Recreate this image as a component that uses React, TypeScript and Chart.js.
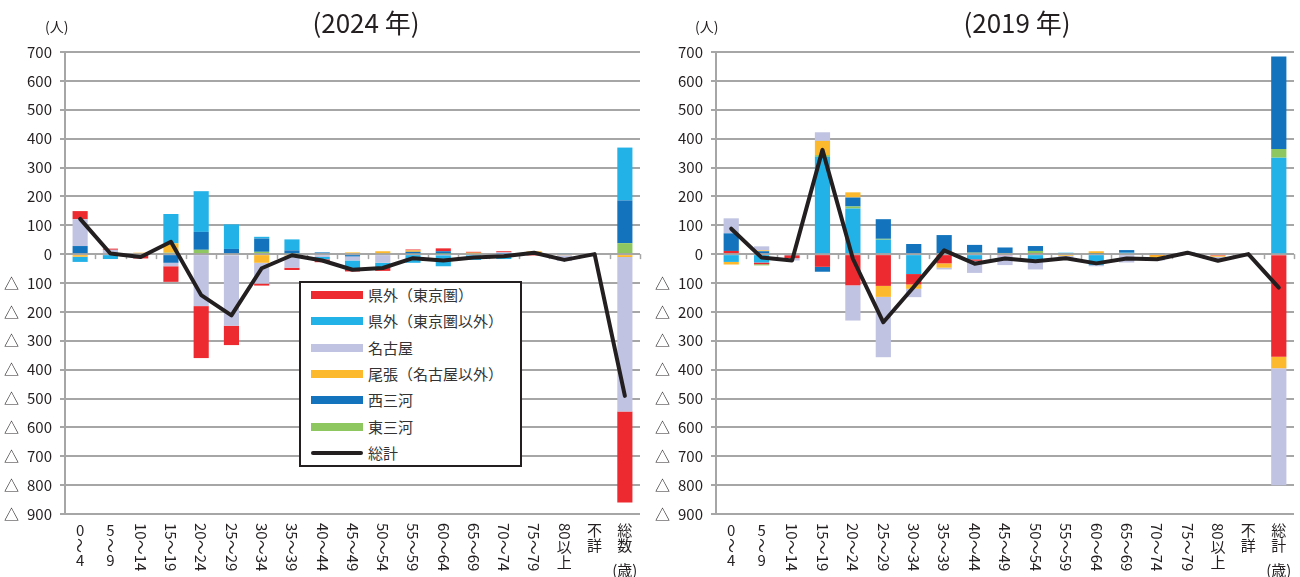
import React, { useEffect, useRef } from 'react';
import { Chart, registerables } from 'chart.js';

Chart.register(...registerables);

// ---- categories ----
const AGE_LABELS = [
  '0～4', '5～9', '10～14', '15～19', '20～24', '25～29', '30～34', '35～39', '40～44',
  '45～49', '50～54', '55～59', '60～64', '65～69', '70～74', '75～79', '80以上', '不詳',
];
const LABELS_2024 = [...AGE_LABELS, '総数'];
const LABELS_2019 = [...AGE_LABELS, '総計'];

// y axis range / ticks
const Y_MIN = -900;
const Y_MAX = 700;
const Y_STEP = 100;

// ---- series (persons) ----
// 2024
const tokyo2024 = [28, 4, -12, -54, -180, -67, -7, -8, -10, -8, -12, 3, 10, 3, 4, -5, 0, 0, -315];
const outsideTokyo2024 = [-18, -17, 0, 102, 141, 85, 6, 38, -8, -30, -16, -30, -38, -16, -17, 0, 4, 0, 183];
const nagoya2024 = [93, 15, -3, -12, -180, -248, -72, -42, -10, -14, -30, 0, -4, -4, 4, 0, -20, 0, -535];
const owari2024 = [-9, 0, 5, 32, 0, 0, -30, -5, 0, 6, 10, 5, 0, 2, 0, 8, -4, 0, -10];
const nishiMikawa2024 = [28, 0, 0, -30, 62, 18, 46, 10, 6, -8, 0, 5, 8, 0, 2, 2, 0, 0, 148];
const higashiMikawa2024 = [0, 0, 0, 5, 15, 0, 8, 3, 0, 0, 0, 3, 2, 3, 0, 0, 0, 0, 38];
const total2024 = [122, 2, -10, 43, -142, -212, -49, -4, -22, -54, -48, -14, -22, -12, -7, 5, -20, 0, -491];

// 2019
const tokyo2019 = [11, -6, -10, -44, -108, -110, -36, -32, -5, -4, 3, 0, 0, 0, -3, 0, -5, 0, -355];
const outsideTokyo2019 = [-27, -29, -4, 337, 158, 50, -69, 0, -18, 0, -18, 5, -38, 5, 0, 0, 0, 0, 334];
const nagoya2019 = [52, 14, -8, 30, -122, -209, -29, -6, -42, -34, -35, -13, -4, -29, -9, 0, -14, 0, -405];
const owari2019 = [-9, 3, 0, 49, 18, -38, -15, -15, 0, 0, 0, -6, 8, 0, -10, 0, -4, 0, -40];
const nishiMikawa2019 = [61, 10, 0, -17, 31, 68, 35, 66, 27, 19, 17, 0, 2, 9, 4, 5, 0, 0, 320];
const higashiMikawa2019 = [0, -4, 0, 6, 7, 3, 0, 0, 5, 4, 8, 0, 0, 0, 0, 0, 0, 0, 30];
const total2019 = [88, -12, -22, 361, -16, -236, -114, 13, -33, -15, -25, -14, -32, -15, -18, 5, -23, 0, -116];

// ---- series styling ----
type Key = 'tokyo' | 'outside' | 'nagoya' | 'owari' | 'nishi' | 'higashi';
const SERIES_NAME: Record<Key, string> = {
  tokyo: '県外（東京圏）',
  outside: '県外（東京圏以外）',
  nagoya: '名古屋',
  owari: '尾張（名古屋以外）',
  nishi: '西三河',
  higashi: '東三河',
};
const SERIES_COLOR: Record<Key, string> = {
  tokyo: '#ED2A30',
  outside: '#23B2E7',
  nagoya: '#C0C3E1',
  owari: '#FDB92E',
  nishi: '#1374BD',
  higashi: '#8EC75F',
};
const LEGEND_ORDER: Key[] = ['tokyo', 'outside', 'nagoya', 'owari', 'nishi', 'higashi'];
const TOTAL_NAME = '総計';
const LINE_COLOR = '#231F20';

// stacking order (first = nearest to zero)
const STACK_2024: Key[] = ['higashi', 'nishi', 'owari', 'nagoya', 'outside', 'tokyo'];
const STACK_2019: Key[] = ['outside', 'tokyo', 'higashi', 'nishi', 'owari', 'nagoya'];

const SERIES_2024: Record<Key, number[]> = {
  tokyo: tokyo2024, outside: outsideTokyo2024, nagoya: nagoya2024,
  owari: owari2024, nishi: nishiMikawa2024, higashi: higashiMikawa2024,
};
const SERIES_2019: Record<Key, number[]> = {
  tokyo: tokyo2019, outside: outsideTokyo2019, nagoya: nagoya2019,
  owari: owari2019, nishi: nishiMikawa2019, higashi: higashiMikawa2019,
};

const FONT = '"Noto Sans CJK JP", "Noto Sans", sans-serif';
const TITLE_FONT = '"Liberation Sans Narrow", "Noto Sans CJK JP", sans-serif';
const TEXT_COLOR = '#231F20';
const GRID_COLOR = '#A6A6A6';

// Split a category label into vertical-writing segments: single digits
// stand upright, multi-digit runs (and the wave dash) are turned sideways.
type Seg = { t: string; rot: boolean };
function verticalSegments(label: string): Seg[] {
  const m = label.match(/^(\d)～(\d)$/);
  if (m) return [{ t: m[1], rot: false }, { t: '～', rot: true }, { t: m[2], rot: false }];
  const segs: Seg[] = [];
  const runs = label.match(/[0-9～]+|[^0-9～]/g) || [];
  for (const r of runs) {
    segs.push({ t: r, rot: /[0-9～]/.test(r) });
  }
  return segs;
}

const decorPlugin = {
  id: 'decor',
  beforeDatasetsDraw(chart: any) {
    const { ctx, chartArea, scales } = chart;
    const y0 = scales.y.getPixelForValue(0);
    const n = chart.data.labels.length;
    const w = (chartArea.right - chartArea.left) / n;
    ctx.save();
    ctx.strokeStyle = GRID_COLOR;
    ctx.lineWidth = 1.5;
    for (let k = 1; k <= n; k++) {
      const px = Math.round(chartArea.left + k * w) + 0.5;
      ctx.beginPath();
      ctx.moveTo(px, y0);
      ctx.lineTo(px, y0 + 5);
      ctx.stroke();
    }
    ctx.restore();
  },
  afterDraw(chart: any) {
    const { ctx, chartArea, scales } = chart;
    const y = scales.y;
    const x = scales.x;
    ctx.save();
    ctx.fillStyle = TEXT_COLOR;
    ctx.font = `15px ${FONT}`;
    // triangle marks for negative values
    ctx.textAlign = 'left';
    ctx.textBaseline = 'middle';
    for (let v = Y_MIN; v < 0; v += Y_STEP) {
      ctx.fillText('△', chartArea.left - 61, y.getPixelForValue(v));
    }
    // vertical category labels
    const labels: string[] = chart.data.labels;
    const top = 523;
    const step = 15;
    labels.forEach((lab, i) => {
      const cx = x.getPixelForValue(i);
      let cy = top;
      for (const s of verticalSegments(lab)) {
        if (s.rot) {
          const wd = ctx.measureText(s.t).width;
          ctx.save();
          ctx.translate(cx, cy);
          ctx.rotate(Math.PI / 2);
          ctx.textAlign = 'left';
          ctx.textBaseline = 'middle';
          ctx.fillText(s.t, 0, 0);
          ctx.restore();
          cy += wd;
        } else {
          ctx.textAlign = 'center';
          ctx.textBaseline = 'middle';
          ctx.fillText(s.t, cx, cy + step / 2);
          cy += step;
        }
      }
    });
    // unit under the last column
    ctx.textAlign = 'center';
    ctx.textBaseline = 'middle';
    ctx.fillText('(歳)', x.getPixelForValue(labels.length - 1), 570);
    ctx.restore();
  },
};

type PanelProps = {
  labels: string[];
  series: Record<Key, number[]>;
  totals: number[];
  stack: Key[];
  axisWidth: number;
  padRight: number;
};

function Panel({ labels, series, totals, stack, axisWidth, padRight }: PanelProps) {
  const ref = useRef<HTMLCanvasElement>(null);
  useEffect(() => {
    if (!ref.current) return;
    const datasets: any[] = [
      {
        type: 'line',
        label: TOTAL_NAME,
        data: totals,
        borderColor: LINE_COLOR,
        backgroundColor: LINE_COLOR,
        borderWidth: 4,
        pointRadius: 0,
        tension: 0,
        borderJoinStyle: 'round',
        borderCapStyle: 'round',
        order: 0,
        stack: 'total',
      },
      ...stack.map((k) => ({
        type: 'bar',
        label: SERIES_NAME[k],
        data: series[k],
        backgroundColor: SERIES_COLOR[k],
        borderWidth: 0,
        barPercentage: 0.5,
        categoryPercentage: 1,
        order: 1,
        stack: 'bars',
      })),
    ];
    const chart = new Chart(ref.current, {
      type: 'bar',
      data: { labels, datasets },
      options: {
        animation: false,
        responsive: false,
        events: [],
        layout: { padding: { top: 52, right: padRight, bottom: 63, left: 0 } },
        plugins: { legend: { display: false }, tooltip: { enabled: false }, title: { display: false } },
        scales: {
          x: { display: false, stacked: true, offset: true },
          y: {
            stacked: true,
            min: Y_MIN,
            max: Y_MAX,
            afterFit: (s: any) => { s.width = axisWidth; },
            grid: { color: GRID_COLOR, lineWidth: 2, tickLength: 5, drawTicks: true },
            border: { display: true, color: GRID_COLOR, width: 2 },
            ticks: {
              stepSize: Y_STEP,
              autoSkip: false,
              padding: 8,
              color: TEXT_COLOR,
              font: { family: FONT, size: 15 },
              callback: (v: any) => String(Math.abs(Number(v))),
            },
          },
        },
      } as any,
      plugins: [decorPlugin],
    });
    return () => chart.destroy();
  }, []);
  return <canvas ref={ref} width={650} height={577} style={{ display: 'block', width: 650, height: 577 }} />;
}

function Legend() {
  const rowStep = 26.3;
  return (
    <div
      style={{
        position: 'absolute', left: 299, top: 281, width: 223, height: 186,
        boxSizing: 'border-box', border: `2px solid ${LINE_COLOR}`, background: '#fff',
        fontFamily: FONT, fontSize: 15, color: '#333',
      }}
    >
      {LEGEND_ORDER.map((k, i) => (
        <div key={k} style={{ position: 'absolute', left: 0, top: 12 + i * rowStep - 10, height: 20, width: 219 }}>
          <div style={{ position: 'absolute', left: 10, top: 6, width: 52, height: 8, background: SERIES_COLOR[k] }} />
          <div style={{ position: 'absolute', left: 67, top: 0, lineHeight: '20px', whiteSpace: 'nowrap' }}>{SERIES_NAME[k]}</div>
        </div>
      ))}
      <div style={{ position: 'absolute', left: 0, top: 12 + 6 * rowStep - 10, height: 20, width: 219 }}>
        <div style={{ position: 'absolute', left: 10, top: 8, width: 52, height: 4, borderRadius: 2, background: LINE_COLOR }} />
        <div style={{ position: 'absolute', left: 67, top: 0, lineHeight: '20px' }}>{TOTAL_NAME}</div>
      </div>
    </div>
  );
}

export default function App() {
  const titleStyle: React.CSSProperties = {
    position: 'absolute', top: 7, width: 200, textAlign: 'center',
    fontFamily: TITLE_FONT, fontSize: 26, lineHeight: '30px', color: TEXT_COLOR, whiteSpace: 'nowrap',
  };
  const unitStyle: React.CSSProperties = {
    position: 'absolute', top: 17, fontFamily: FONT, fontSize: 14, lineHeight: '18px', color: TEXT_COLOR,
  };
  return (
    <div style={{ position: 'absolute', left: 0, top: 0, width: 1300, height: 577, background: '#fff', overflow: 'hidden' }}>
      <div style={{ position: 'absolute', left: 0, top: 0 }}>
        <Panel labels={LABELS_2024} series={SERIES_2024} totals={total2024} stack={STACK_2024} axisWidth={65} padRight={10} />
      </div>
      <div style={{ position: 'absolute', left: 650, top: 0 }}>
        <Panel labels={LABELS_2019} series={SERIES_2019} totals={total2019} stack={STACK_2019} axisWidth={66} padRight={6} />
      </div>
      <div style={{ ...titleStyle, left: 266 }}>(2024 年)</div>
      <div style={{ ...titleStyle, left: 917 }}>(2019 年)</div>
      <div style={{ ...unitStyle, left: 45 }}>(人)</div>
      <div style={{ ...unitStyle, left: 695 }}>(人)</div>
      <Legend />
    </div>
  );
}
